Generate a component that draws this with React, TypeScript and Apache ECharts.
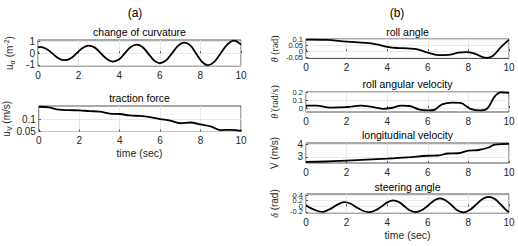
import React, { useEffect, useRef } from "react";
import * as echarts from "echarts";

// ---- data ----
const xTicks = [0, 2, 4, 6, 8, 10];

const curvT = [0, 0.1, 0.4, 0.7, 1.0, 1.3, 1.6, 1.9, 2.2, 2.5, 2.8, 3.1, 3.4, 3.7, 4.0, 4.27, 4.56, 4.85, 5.13, 5.42, 5.71, 6.0, 6.3, 6.6, 6.9, 7.2, 7.49, 7.78, 8.07, 8.35, 8.67, 9.0, 9.33, 9.65, 10];
const curvV = [0.5, 0.55, 0.39, 0, -0.42, -0.6, -0.45, 0, 0.46, 0.67, 0.49, 0, -0.5, -0.72, -0.52, 0, 0.53, 0.75, 0.57, 0, -0.6, -0.86, -0.63, 0, 0.64, 0.92, 0.7, 0, -0.72, -1.03, -0.76, 0, 0.77, 1.1, 0.75];
const curvTicks = [-1, 0, 1];

const tracT = [0, 0.5, 1, 1.5, 2, 2.5, 3, 3.5, 4, 4.5, 5, 5.5, 6, 6.5, 7, 7.5, 8, 8.5, 9, 9.5, 10];
const tracV = [0.152, 0.149, 0.14, 0.138, 0.137, 0.134, 0.132, 0.124, 0.122, 0.116, 0.114, 0.109, 0.101, 0.095, 0.084, 0.087, 0.079, 0.071, 0.056, 0.057, 0.053];
const tracTicks = [0.05, 0.1];

const rollT = [0, 1, 2, 3, 3.5, 4, 4.5, 5, 5.5, 6, 6.6, 7, 7.5, 7.9, 8.3, 8.9, 9.2, 9.6, 10];
const rollV = [0.095, 0.092, 0.079, 0.068, 0.055, 0.036, 0.026, 0.023, 0.015, -0.012, -0.033, -0.031, -0.012, -0.007, -0.02, -0.055, -0.039, 0.033, 0.095];
const rollTicks = [-0.05, 0, 0.05, 0.1];

const rateT = [0, 0.5, 1.2, 2, 2.7, 3.2, 3.8, 4.2, 4.7, 5.1, 5.6, 6.0, 6.3, 6.7, 7.2, 7.6, 8.1, 8.6, 8.9, 9.3, 9.6, 10];
const rateV = [0.03, 0.03, 0.004, 0.01, 0.03, 0.017, -0.01, 0.0, 0.03, 0.025, -0.02, -0.03, -0.025, 0.046, 0.067, 0.063, -0.01, -0.03, -0.013, 0.146, 0.196, 0.19];
const rateTicks = [0, 0.1, 0.2];

const velT = [0, 1, 2, 3, 4, 5, 6, 6.5, 7, 7.5, 8, 8.5, 9, 9.3, 10];
const velV = [2.59, 2.62, 2.69, 2.77, 2.85, 2.95, 3.08, 3.1, 3.26, 3.28, 3.49, 3.54, 3.74, 3.97, 4.03];
const velTicks = [3, 4];

const steerT = [0, 0.4, 0.8, 1.1, 1.35, 1.6, 1.9, 2.2, 2.5, 2.8, 3.1, 3.4, 3.7, 4.0, 4.3, 4.6, 4.85, 5.1, 5.4, 5.7, 6.0, 6.3, 6.6, 6.9, 7.2, 7.45, 7.75, 8.05, 8.35, 8.7, 9.0, 9.3, 9.6, 9.85, 10];
const steerV = [0.03, -0.12, -0.2, -0.13, -0.03, 0.08, 0.146, 0.09, -0.04, -0.16, -0.21, -0.15, -0.02, 0.14, 0.215, 0.14, 0.0, -0.14, -0.21, -0.14, 0.02, 0.2, 0.28, 0.2, 0.02, -0.14, -0.22, -0.14, 0.04, 0.26, 0.34, 0.26, 0.06, -0.13, -0.21];
const steerTicks = [-0.2, 0, 0.2, 0.4];

const titles = ["change of curvature", "traction force", "roll angle", "roll angular velocity", "longitudinal velocity", "steering angle"];

const SANS = "'Liberation Sans', Arial, sans-serif";
const SERIF = "'Liberation Serif', 'DejaVu Serif', serif";
const TXT = "#262626";

export default function App() {
  const ref = useRef<HTMLDivElement>(null);
  useEffect(() => {
    if (!ref.current) return;
    const chart = echarts.init(ref.current, undefined, { renderer: "svg" });

    const grids = [
      { left: 38, top: 40, width: 203, height: 26 },
      { left: 38, top: 106, width: 203, height: 25.5 },
      { left: 306, top: 39, width: 203, height: 19.5 },
      { left: 306, top: 92, width: 203, height: 20 },
      { left: 306, top: 143, width: 203, height: 20 },
      { left: 306, top: 194, width: 203, height: 19 },
    ];
    const titleY = [32, 98, 32, 84, 135, 187];
    const yCfg = [
      { min: -1.1, max: 1.15, ticks: curvTicks, gap: 22, fs: 10, name: "{n|u}{sub|σ}{n| (m}{sup|-2}{n|)}" },
      { min: 0.05, max: 0.155, ticks: tracTicks, gap: 22, fs: 10, name: "{n|u}{sub|V}{n| (m/s)}" },
      { min: -0.06, max: 0.1, ticks: rollTicks, gap: 25, fs: 7.5, name: "{it|θ}{s| (rad)}" },
      { min: -0.05, max: 0.2, ticks: rateTicks, gap: 25, fs: 7.5, name: "{it|θ̇}{s| (rad/s)}" },
      { min: 2.5, max: 4.1, ticks: velTicks, gap: 25, fs: 10, name: "{n|V (m/s)}" },
      { min: -0.24, max: 0.44, ticks: steerTicks, gap: 25, fs: 7.5, name: "{it|δ}{n| (rad)}" },
    ];
    const split = [false, false, true, true, false, true];
    const series = [
      [curvT, curvV],
      [tracT, tracV],
      [rollT, rollV],
      [rateT, rateV],
      [velT, velV],
      [steerT, steerV],
    ];
    const fmt = (v: number) => String(+v.toFixed(3));

    const labelStyle = (fs: number, values: number[]) => ({
      margin: 3,
      fontSize: fs,
      lineHeight: fs,
      fontFamily: SANS,
      color: TXT,
      customValues: values,
      formatter: fmt,
      hideOverlap: false,
      showMinLabel: true,
      showMaxLabel: true,
    });

    const mainY = yCfg.map((c, i) => ({
      type: "value",
      gridIndex: i,
      min: c.min,
      max: c.max,
      axisLine: { show: false },
      axisTick: { show: true, inside: true, length: 2, customValues: c.ticks, lineStyle: { color: TXT, width: 0.8 } },
      axisLabel: labelStyle(c.fs, split[i] ? c.ticks.filter((_, k) => k % 2 === 0) : c.ticks),
      splitLine: { show: true, lineStyle: { color: "#e3e3e3", width: 0.8 } },
      name: c.name,
      nameLocation: "middle",
      nameGap: c.gap,
      nameTextStyle: {
        color: TXT,
        rich: {
          n: { fontSize: 10, fontFamily: SANS, color: TXT, lineHeight: 13 },
          s: { fontSize: 10, fontFamily: SERIF, color: TXT, lineHeight: 13 },
          it: { fontSize: 10, fontFamily: SERIF, fontStyle: "italic", color: TXT, lineHeight: 13 },
          sub: { fontSize: 7, fontFamily: SANS, color: TXT, lineHeight: 8, verticalAlign: "bottom" },
          sup: { fontSize: 7, fontFamily: SANS, color: TXT, lineHeight: 8, verticalAlign: "top" },
        },
      },
    }));
    const auxY = yCfg
      .map((c, i) => ({ c, i }))
      .filter(({ i }) => split[i])
      .map(({ c, i }) => ({
        type: "value",
        gridIndex: i,
        position: "left",
        offset: 0,
        min: c.min,
        max: c.max,
        axisLine: { show: false },
        axisTick: { show: false },
        splitLine: { show: false },
        axisLabel: labelStyle(c.fs, c.ticks.filter((_, k) => k % 2 === 1)),
      }));

    const option: any = {
      animation: false,
      backgroundColor: "#ffffff",
      grid: grids.map((g) => ({
        ...g,
        show: true,
        borderColor: TXT,
        borderWidth: 0.8,
        backgroundColor: "#ffffff",
        containLabel: false,
      })),
      xAxis: grids.map((_, i) => ({
        type: "value",
        gridIndex: i,
        min: 0,
        max: 10,
        interval: 2,
        axisLine: { show: false },
        axisTick: { show: true, inside: true, length: 2, lineStyle: { color: TXT, width: 0.8 } },
        axisLabel: {
          margin: 4,
          fontSize: 10,
          fontFamily: SANS,
          color: TXT,
          customValues: xTicks,
          showMinLabel: true,
          showMaxLabel: true,
        },
        splitLine: { show: true, lineStyle: { color: "#e3e3e3", width: 0.8 } },
      })),
      yAxis: [...mainY, ...auxY],
      series: series.map(([t, v], i) => ({
        type: "line",
        xAxisIndex: i,
        yAxisIndex: i,
        showSymbol: false,
        smooth: 0.4,
        clip: true,
        lineStyle: { color: "#000000", width: 1.8 },
        data: (t as number[]).map((x, j) => [x, (v as number[])[j]]),
      })),
      graphic: [
        ...grids.map((g, i) => ({
          type: "text",
          x: g.left + g.width / 2,
          y: titleY[i],
          style: {
            text: titles[i],
            fontSize: 10.5,
            fontFamily: SANS,
            fill: "#000000",
            textAlign: "center",
            textVerticalAlign: "middle",
          },
        })),
        {
          type: "text",
          x: 135,
          y: 13,
          style: { text: "(a)", fontSize: 12, fontFamily: SANS, fill: "#000", textAlign: "center", textVerticalAlign: "middle" },
        },
        {
          type: "text",
          x: 397,
          y: 13,
          style: { text: "(b)", fontSize: 12, fontFamily: SANS, fill: "#000", textAlign: "center", textVerticalAlign: "middle" },
        },
        {
          type: "text",
          x: 139.5,
          y: 153,
          style: { text: "time (sec)", fontSize: 10.5, fontFamily: SANS, fill: TXT, textAlign: "center", textVerticalAlign: "middle" },
        },
        {
          type: "text",
          x: 407.5,
          y: 235,
          style: { text: "time (sec)", fontSize: 10.5, fontFamily: SANS, fill: TXT, textAlign: "center", textVerticalAlign: "middle" },
        },
      ],
    };
    chart.setOption(option);
    return () => chart.dispose();
  }, []);
  return <div ref={ref} style={{ position: "absolute", left: 0, top: 0, width: 518, height: 246 }} />;
}
